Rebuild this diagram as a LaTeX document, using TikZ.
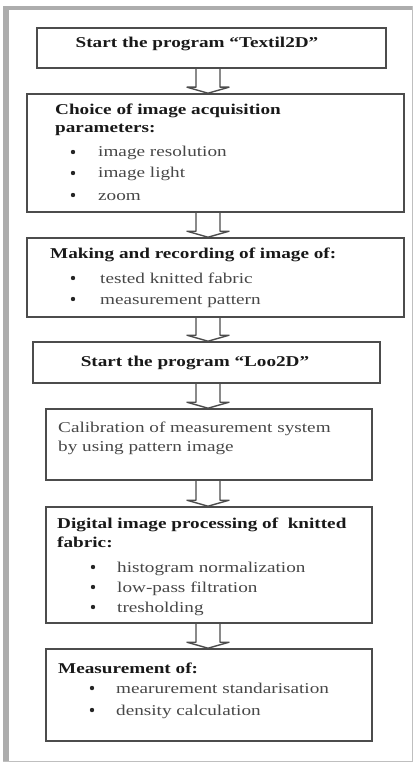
\documentclass[tikz,border=0pt]{standalone}
\usepackage{fontspec}
\setmainfont[FakeStretch=1.28]{Liberation Serif}
\usetikzlibrary{calc}
\begin{document}
\begin{tikzpicture}[x=1pt,y=-1pt,
  box/.style={draw=black!70, line width=1.6pt, inner sep=0pt, rectangle},
  arr/.style={draw=black!70, line width=1.4pt, line join=round},
  ttl/.style={font=\fontsize{15}{18}\selectfont\bfseries, text=black!90, inner sep=0pt, anchor=base west},
  txt/.style={font=\fontsize{15}{18}\selectfont, text=black!72, inner sep=0pt, anchor=base west},
  bul/.style={circle, fill=black!85, inner sep=0pt, minimum size=4.4pt, yshift=5pt}]
\useasboundingbox (0,0) rectangle (415,762);
% outer frame
\fill[black!32] (3,6) rectangle (412,10);
\fill[black!32] (3,6) rectangle (9,761);
\draw[black!25, line width=0.8pt] (412,6) -- (412,761) -- (3,761);
% boxes
\node[box, minimum width=349pt, minimum height=40pt] (b1) at (211.5,48) {};
\node[box, minimum width=377pt, minimum height=118pt] (b2) at (215.5,153) {};
\node[box, minimum width=377pt, minimum height=79pt] (b3) at (215.5,277.5) {};
\node[box, minimum width=347pt, minimum height=41pt] (b4) at (206.5,362.5) {};
\node[box, minimum width=326pt, minimum height=71pt] (b5) at (209,444.5) {};
\node[box, minimum width=326pt, minimum height=116pt] (b6) at (209,565) {};
\node[box, minimum width=326pt, minimum height=92pt] (b7) at (209,695) {};
\coordinate (ax) at (208,0);
% block arrows
\foreach \u/\l in {b1/b2,b2/b3,b3/b4,b4/b5,b5/b6,b6/b7}{
  \draw[arr] let \p1=(\u.south -| ax), \p2=(\l.north -| ax) in
    (\x1-12pt,\y1) -- (\x1-12pt,\y2+6pt) -- (\x1-21pt,\y2+6pt) -- (\x1,\y2)
    -- (\x1+21pt,\y2+6pt) -- (\x1+12pt,\y2+6pt) -- (\x1+12pt,\y1);
}
% box 1
\node[ttl, anchor=base] (t1) at (197,48) {Start the program ``Textil2D''};
% box 2
\node[ttl] (t2a) at (55,115) {Choice of image acquisition};
\node[ttl] (t2b) at (55,133) {parameters:};
\node[bul] (u2a) at (73,157) {};
\node[txt] (t2c) at (98,157) {image resolution};
\node[bul] (u2b) at (73,178) {};
\node[txt] (t2d) at (98,178) {image light};
\node[bul] (u2c) at (73,200) {};
\node[txt] (t2e) at (98,200) {zoom};
% box 3
\node[ttl] (t3a) at (50,258) {Making and recording of image of:};
\node[bul] (u3a) at (73,283) {};
\node[txt] (t3b) at (100,283) {tested knitted fabric};
\node[bul] (u3b) at (73,304) {};
\node[txt] (t3c) at (100,304) {measurement pattern};
% box 4
\node[ttl, anchor=base] (t4) at (195,366) {Start the program ``Loo2D''};
% box 5
\node[txt] (t5a) at (58,432) {Calibration of measurement system};
\node[txt] (t5b) at (58,451) {by using pattern image};
% box 6
\node[ttl] (t6a) at (57,528) {Digital image processing of \ knitted};
\node[ttl] (t6b) at (57,547) {fabric:};
\node[bul] (u6a) at (93,572) {};
\node[txt] (t6c) at (117,572) {histogram normalization};
\node[bul] (u6b) at (93,592) {};
\node[txt] (t6d) at (117,592) {low-pass filtration};
\node[bul] (u6c) at (93,612) {};
\node[txt] (t6e) at (117,612) {tresholding};
% box 7
\node[ttl] (t7a) at (58,673) {Measurement of:};
\node[bul] (u7a) at (92,693) {};
\node[txt] (t7b) at (116,693) {mearurement standarisation};
\node[bul] (u7b) at (92,715) {};
\node[txt] (t7c) at (116,715) {density calculation};
\end{tikzpicture}
\end{document}
